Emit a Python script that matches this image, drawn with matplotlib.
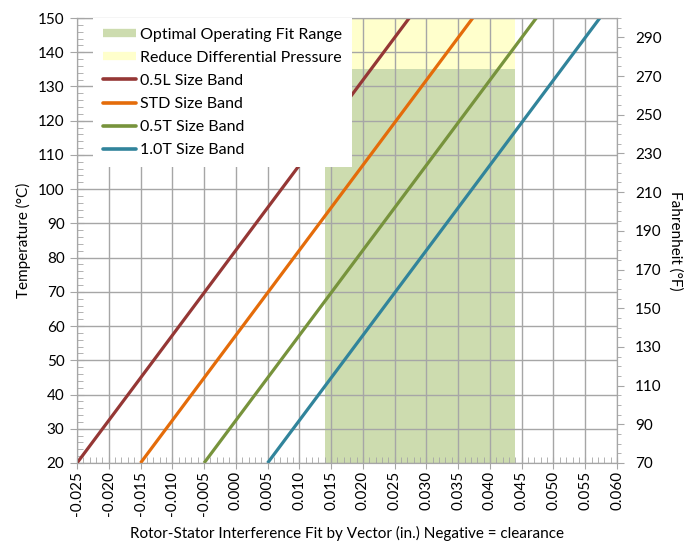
import numpy as np
import matplotlib
matplotlib.use("Agg")
import matplotlib.pyplot as plt
from matplotlib.lines import Line2D
from matplotlib.ticker import MultipleLocator, FuncFormatter

plt.rcParams['font.family'] = ['Lato', 'DejaVu Sans']

# end points of each size band: temperature (°C) vs fit (in.)
temp_c = [20, 150]
band_names = ["0.5L Size Band", "STD Size Band", "0.5T Size Band", "1.0T Size Band"]
fit_05l = [-0.025, 0.0273]
fit_std = [-0.015, 0.0373]
fit_05t = [-0.005, 0.0473]
fit_10t = [0.005, 0.0573]
band_colors = ['#953735', '#e46c0a', '#77933c', '#31849b']

# shaded operating regions
range_names = ["Optimal Operating Fit Range", "Reduce Differential Pressure"]
optimal_fit = [0.014, 0.044]
optimal_temp = [20, 135]
reduce_dp_temp = [135, 150]
range_colors = ['#cddcaf', '#ffffcc']

x_ticks = np.round(np.arange(-0.025, 0.0601, 0.005), 3)
f_ticks = list(range(70, 300, 20))

grid_c = '#a6a6a6'
fs = 11

fig = plt.figure(figsize=(6.94, 5.42), dpi=100)
ax = fig.add_axes([77 / 694, 1 - 463 / 542, 540 / 694, 445 / 542])

ax.fill_between(optimal_fit, optimal_temp[0], optimal_temp[1],
                color=range_colors[0], lw=0, zorder=1)
ax.fill_between(optimal_fit, reduce_dp_temp[0], reduce_dp_temp[1],
                color=range_colors[1], lw=0, zorder=1)

for fit, c in zip([fit_05l, fit_std, fit_05t, fit_10t], band_colors):
    ax.plot(fit, temp_c, color=c, lw=2.3, solid_capstyle='butt', zorder=3)

ax.set_xlim(-0.025, 0.060)
ax.set_ylim(20, 150)
ax.set_xticks(x_ticks)
ax.xaxis.set_major_formatter(FuncFormatter(lambda v, p: f"{v:.3f}".replace("-0.000", "0.000")))
ax.xaxis.set_minor_locator(MultipleLocator(0.001))
ax.yaxis.set_major_locator(MultipleLocator(10))
ax.yaxis.set_minor_locator(MultipleLocator(2))
ax.grid(True, which='major', color=grid_c, lw=1)

ax.tick_params(axis='x', which='major', direction='inout', length=8, color=grid_c,
               labelsize=fs, labelrotation=90, pad=2)
ax.tick_params(axis='x', which='minor', direction='in', length=4, color=grid_c)
ax.tick_params(axis='y', which='major', direction='inout', length=10, color=grid_c,
               labelsize=fs, pad=4)
ax.tick_params(axis='y', which='minor', direction='in', length=4, color=grid_c)
for s in ax.spines.values():
    s.set_color(grid_c)

ax.set_xlabel("Rotor-Stator Interference Fit by Vector (in.) Negative = clearance",
              fontsize=fs, labelpad=7)
ax.set_ylabel("Temperature (°C)", fontsize=fs, labelpad=5)

# secondary Fahrenheit scale
ax2 = ax.twinx()
ax2.set_ylim(70, 300)
ax2.set_yticks(f_ticks)
ax2.yaxis.set_minor_locator(MultipleLocator(5))
ax2.tick_params(axis='y', which='major', direction='out', length=5, color=grid_c,
                labelsize=fs, pad=8)
ax2.tick_params(axis='y', which='minor', direction='out', length=3, color=grid_c)
for s in ax2.spines.values():
    s.set_color(grid_c)
ax2.set_ylabel("Fahrenheit (°F)", fontsize=fs, rotation=270, labelpad=15)

handles = [Line2D([], [], color=range_colors[0], lw=6, solid_capstyle='butt'),
           Line2D([], [], color=range_colors[1], lw=6, solid_capstyle='butt')]
handles += [Line2D([], [], color=c, lw=2.6, solid_capstyle='round') for c in band_colors]
leg = ax2.legend(handles, range_names + band_names, loc='upper left',
                 bbox_to_anchor=(0.03, 1.0), borderaxespad=0, fontsize=11.5,
                 handlelength=2.1, handletextpad=0.25, labelspacing=0.56,
                 borderpad=0.6, fancybox=False, framealpha=1,
                 facecolor='white', edgecolor='none')
leg.set_zorder(10)

fig.savefig("out.png", dpi=100)
